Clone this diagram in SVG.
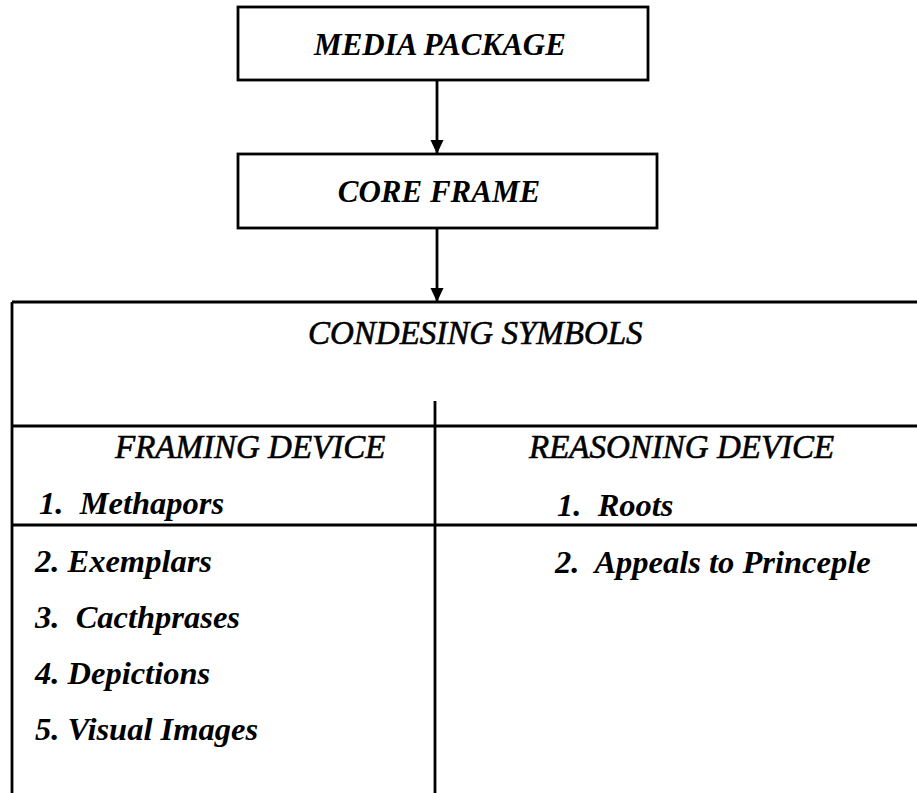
<svg xmlns="http://www.w3.org/2000/svg" width="917" height="793" viewBox="0 0 917 793">
<style>
.box{fill:#fff;stroke:#000;stroke-width:2.8}
.ln{stroke:#000;stroke-width:2.8;fill:none}
.c{text-anchor:middle}
.h{stroke:#000;stroke-width:0.6}
</style>
<defs>
<marker id="ah" markerWidth="14" markerHeight="14" refX="14" refY="6.5" orient="auto" markerUnits="userSpaceOnUse">
<path d="M0,0 L14,6.5 L0,13 Z" fill="#000"/>
</marker>
</defs>
<rect width="917" height="793" fill="#fff"/>
<g font-family="Liberation Serif, DejaVu Serif, serif" font-style="italic" fill="#000">
<g id="media-package">
<rect class="box" x="238" y="7" width="410" height="73"/>
<text class="c" x="440" y="55" font-size="31" font-weight="bold">MEDIA PACKAGE</text>
</g>
<g id="core-frame">
<rect class="box" x="238" y="154" width="419" height="74"/>
<text class="c" x="439" y="202" font-size="31" font-weight="bold">CORE FRAME</text>
</g>
<g id="condensing-symbols">
<path class="ln" d="M12,302 H917 M12,302 V793 M12,426 H917 M435,401 V793 M12,525 H917"/>
<text class="h" x="308" y="344" font-size="33">CONDESING SYMBOLS</text>
<text class="h" x="115" y="458" font-size="33">FRAMING DEVICE</text>
<text class="h" x="529" y="458" font-size="33">REASONING DEVICE</text>
<g font-weight="bold" font-size="32.5">
<text x="39" y="514" xml:space="preserve">1.  Methapors</text>
<text x="35" y="572">2. Exemplars</text>
<text x="35" y="628" xml:space="preserve">3.  Cacthprases</text>
<text x="35" y="684">4. Depictions</text>
<text x="35" y="740">5. Visual Images</text>
<text x="557" y="516" xml:space="preserve">1.  Roots</text>
<text x="555" y="573" xml:space="preserve">2.  Appeals to Princeple</text>
</g>
</g>
</g>
<g id="connectors">
<line class="ln" x1="437" y1="80" x2="437" y2="154" marker-end="url(#ah)"/>
<line class="ln" x1="437" y1="228" x2="437" y2="302" marker-end="url(#ah)"/>
</g>
</svg>
